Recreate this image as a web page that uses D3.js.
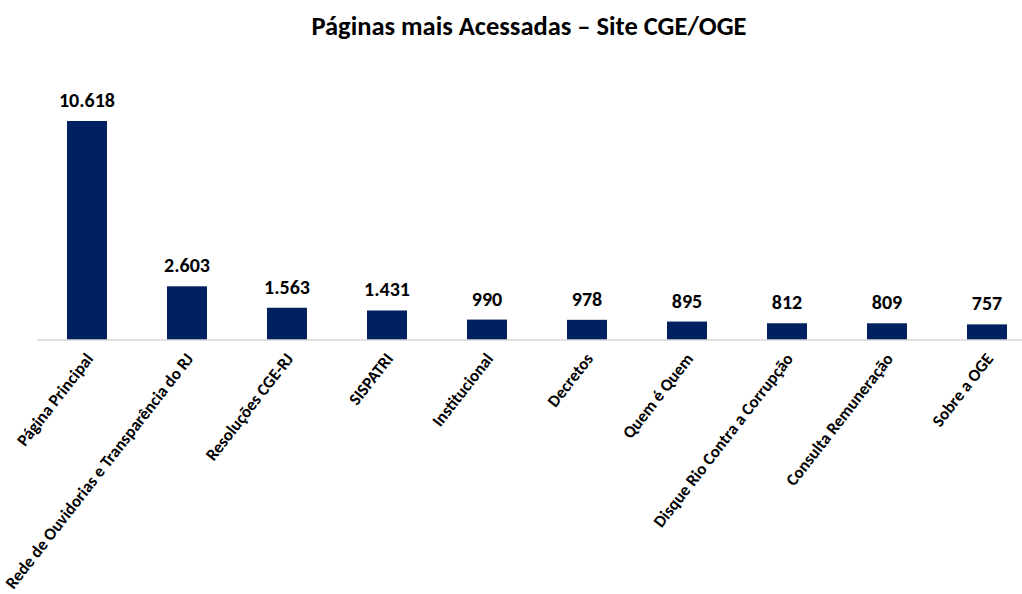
<!DOCTYPE html>
<html>
<head>
<meta charset="utf-8">
<script src="https://cdn.jsdelivr.net/npm/d3@7"></script>
<style>
    body { margin: 0; background: #fff; }
    text { font-family: Carlito, Calibri, Lato, sans-serif; font-weight: bold; fill: #000; }
</style>
</head>
<body>
<div id="vis"></div>
<script>
// pages and access counts
const pages = [
    "Página Principal",
    "Rede de Ouvidorias e Transparência do RJ",
    "Resoluções CGE-RJ",
    "SISPATRI",
    "Institucional",
    "Decretos",
    "Quem é Quem",
    "Disque Rio Contra a Corrupção",
    "Consulta Remuneração",
    "Sobre a OGE"
];
const visits = [10618, 2603, 1563, 1431, 990, 978, 895, 812, 809, 757];
const valueLabels = ["10.618", "2.603", "1.563", "1.431", "990", "978", "895", "812", "809", "757"];

const width = 1022;
const height = 594;
const baseY = 340;

const data = pages.map((p, i) => ({ page: p, value: visits[i], label: valueLabels[i] }));

const svg = d3.select("#vis").append("svg")
    .attr("width", width)
    .attr("height", height);

const x = d3.scaleBand()
    .domain(pages)
    .range([37, 1037])
    .paddingInner(0.6)
    .paddingOuter(0.3);

const y = d3.scaleLinear()
    .domain([0, d3.max(visits)])
    .range([baseY, 121]);

// title
svg.append("text")
    .attr("x", 529)
    .attr("y", 35)
    .attr("text-anchor", "middle")
    .style("font-size", "26.5px")
    .text("Páginas mais Acessadas – Site CGE/OGE");

// bars
svg.append("g")
    .selectAll("rect")
    .data(data)
    .join("rect")
    .attr("x", d => x(d.page))
    .attr("y", d => y(d.value))
    .attr("width", x.bandwidth())
    .attr("height", d => baseY - y(d.value))
    .attr("fill", "#002060");

// baseline
svg.append("line")
    .attr("x1", 37).attr("x2", width)
    .attr("y1", baseY).attr("y2", baseY)
    .attr("stroke", "#d9d9d9")
    .attr("stroke-width", 1.5);

// value labels
svg.append("g")
    .selectAll("text")
    .data(data)
    .join("text")
    .attr("x", d => x(d.page) + x.bandwidth() / 2)
    .attr("y", d => y(d.value) - 14)
    .attr("text-anchor", "middle")
    .style("font-size", "20px")
    .text(d => d.label);

// category labels, rotated
svg.append("g")
    .selectAll("text")
    .data(data)
    .join("text")
    .attr("text-anchor", "end")
    .attr("transform", d => `translate(${x(d.page) + x.bandwidth() / 2 + 7}, ${baseY + 19}) rotate(-52)`)
    .style("font-size", "17px")
    .text(d => d.page);
</script>
</body>
</html>
